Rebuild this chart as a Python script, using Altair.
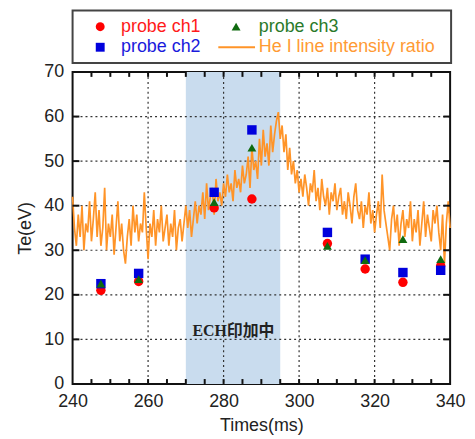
import altair as alt
import pandas as pd

# ---------------- data ----------------
probe_times = [247.5, 257.5, 277.5, 287.5, 307.5, 317.5, 327.5, 337.5]
probe_ch1 = [21.0, 23.0, 39.5, 41.5, 31.5, 25.8, 22.8, 26.5]
probe_ch2 = [22.5, 24.8, 43.0, 57.0, 34.0, 28.0, 25.0, 25.5]
probe_ch3 = [22.5, 23.5, 40.8, 53.0, 31.0, 27.8, 32.5, 28.0]

he_start = 240.0
he_step = 0.5
he_ratio = [
    42, 35, 31, 38, 33, 40, 30, 36, 34, 41, 32, 37, 43, 33, 39, 31, 35, 44, 30, 36, 33,
    38, 29, 35, 41, 32, 36, 30, 27, 33, 37, 31, 40, 34, 38, 32, 36, 34, 43, 35, 28,
    36, 33, 39, 31, 37, 34, 40, 32, 35, 38, 31, 36, 33, 39, 30, 35, 37, 32, 36, 40,
    35, 39, 33, 37, 41, 36, 40, 38, 43, 37, 45, 39, 42, 44, 38, 46, 41, 43, 40, 45,
    42, 47, 43, 45, 41, 48, 44, 46, 43, 49, 45, 47, 51, 44, 53, 48, 50, 46, 55, 49,
    57, 51, 54, 49, 58, 52, 56, 59, 61, 55,
    58, 52, 56, 48, 53, 47, 50, 45, 48, 43,
    46, 42, 47, 44, 40, 45, 43, 48, 41, 44, 39, 46, 42, 40, 44, 38, 43, 41, 45, 39,
    42, 44, 38, 41, 37, 43, 40, 36, 42, 45, 39, 37, 41, 35, 40, 38, 43, 36, 39, 34,
    38, 41, 35, 47, 39, 36, 33, 30, 37, 40, 34, 38, 31, 36, 39, 33, 37, 35, 41, 32,
    37, 34, 39, 31, 36, 41, 33, 38, 35, 32, 39, 36, 40, 34, 30, 38, 27, 36, 41, 35,
]
he_times = [he_start + i * he_step for i in range(len(he_ratio))]

ech_window = [270, 295]
ech_label = "ECH印加中"
ech_label_pos = [282.6, 11.8]

x_domain = [240, 340]
y_domain = [0, 70]
x_grid = [260, 280, 300, 320]
y_grid = [10, 20, 30, 40, 50, 60]
x_minor = [245, 250, 255, 260, 265, 270, 275, 280, 285, 290, 295,
           300, 305, 310, 315, 320, 325, 330, 335]
y_minor = [10, 20, 30, 40, 50, 60]

series_names = ["probe ch1", "probe ch2", "probe ch3", "He I line intensity ratio"]
series_colors = ["#ff0000", "#0000dd", "#0f6a0f", "#ff9428"]
label_colors = ["#ff1a1a", "#1a1adc", "#2a7a2a", "#ff9a33"]
series_shapes = ["circle", "square", "triangle-up", "line"]

FONT = "Liberation Sans"
W, H = 380, 314

# ---------------- main plot ----------------
xs = alt.Scale(domain=x_domain, nice=False, zero=False)
ys = alt.Scale(domain=y_domain, nice=False)

x_axis = alt.Axis(values=[240, 260, 280, 300, 320, 340], grid=False, ticks=False,
                  domain=False, labelFontSize=18, labelFont=FONT, labelColor="#222",
                  labelPadding=9, title="Times(ms)", titleFontSize=18, titleFont=FONT,
                  titleFontWeight="normal", titleColor="#222", titlePadding=6,
                  labelFlush=False)
y_axis = alt.Axis(values=[0, 10, 20, 30, 40, 50, 60, 70], grid=False, ticks=False,
                  domain=False, labelFontSize=18, labelFont=FONT, labelColor="#222",
                  labelPadding=9, title="Te(eV)", titleFontSize=18, titleFont=FONT,
                  titleFontWeight="normal", titleColor="#222", titlePadding=9)

ech_df = pd.DataFrame({"start": [ech_window[0]], "end": [ech_window[1]]})
rect = alt.Chart(ech_df).mark_rect(color="#c9dcee").encode(
    x=alt.X("start:Q", scale=xs, axis=x_axis),
    x2="end:Q",
    y=alt.Y(datum=y_domain[0], scale=ys, axis=y_axis),
    y2=alt.datum(y_domain[1]),
)

gx = alt.Chart(pd.DataFrame({"g": x_grid})).mark_rule(
    color="#333", strokeDash=[2, 3], strokeWidth=1.2).encode(x=alt.X("g:Q", scale=xs))
gy = alt.Chart(pd.DataFrame({"g": y_grid})).mark_rule(
    color="#333", strokeDash=[2, 3], strokeWidth=1.2).encode(y=alt.Y("g:Q", scale=ys))

he_df = pd.DataFrame({"t": he_times, "v": he_ratio})
line = alt.Chart(he_df).mark_line(color=series_colors[3], strokeWidth=1.7).encode(
    x=alt.X("t:Q", scale=xs), y=alt.Y("v:Q", scale=ys))

def pts(vals, i, size):
    df = pd.DataFrame({"t": probe_times, "v": vals})
    return alt.Chart(df).mark_point(filled=True, opacity=1, shape=series_shapes[i],
                                    color=series_colors[i], size=size).encode(
        x=alt.X("t:Q", scale=xs), y=alt.Y("v:Q", scale=ys))

p1 = pts(probe_ch1, 0, 90)
p2 = pts(probe_ch2, 1, 90)
p3 = pts(probe_ch3, 2, 80)

txt_df = pd.DataFrame({"t": [ech_label_pos[0]], "v": [ech_label_pos[1]], "s": [ech_label]})
txt = alt.Chart(txt_df).mark_text(font="'Liberation Serif', 'Noto Sans CJK JP'",
                                  fontWeight="bold", fontSize=16, color="#222").encode(
    x=alt.X("t:Q", scale=xs), y=alt.Y("v:Q", scale=ys), text="s:N")

# inward tick marks
xt_len = 1.1
yt_len = 1.8
xtb = pd.DataFrame({"t": x_minor, "a": [y_domain[0]] * len(x_minor),
                    "b": [y_domain[0] + xt_len] * len(x_minor)})
xtt = pd.DataFrame({"t": x_minor, "a": [y_domain[1]] * len(x_minor),
                    "b": [y_domain[1] - xt_len] * len(x_minor)})
ytl = pd.DataFrame({"v": y_minor, "a": [x_domain[0]] * len(y_minor),
                    "b": [x_domain[0] + yt_len] * len(y_minor)})
ytr = pd.DataFrame({"v": y_minor, "a": [x_domain[1]] * len(y_minor),
                    "b": [x_domain[1] - yt_len] * len(y_minor)})
tick_x = alt.layer(*[
    alt.Chart(d).mark_rule(color="#111", strokeWidth=2).encode(
        x=alt.X("t:Q", scale=xs), y=alt.Y("a:Q", scale=ys), y2="b:Q")
    for d in (xtb, xtt)])
tick_y = alt.layer(*[
    alt.Chart(d).mark_rule(color="#111", strokeWidth=2).encode(
        y=alt.Y("v:Q", scale=ys), x=alt.X("a:Q", scale=xs), x2="b:Q")
    for d in (ytl, ytr)])

main = alt.layer(rect, gx, gy, line, p1, p2, p3, txt, tick_x, tick_y).properties(
    width=W, height=H, view=alt.ViewBackground(stroke="#111", strokeWidth=2))

# ---------------- legend box ----------------
LW, LH = 381, 53
lx = alt.Scale(domain=[0, 1], nice=False)
ly = alt.Scale(domain=[0, 1], nice=False, reverse=True)

leg_sym = pd.DataFrame({
    "x": [0.073, 0.073, 0.432],
    "y": [0.31, 0.70, 0.31],
    "shape": series_shapes[:3],
    "color": series_colors[:3],
})
leg_line = pd.DataFrame({"x": [0.385], "x2": [0.482], "y": [0.70],
                         "color": [series_colors[3]]})
leg_txt = pd.DataFrame({
    "x": [0.128, 0.128, 0.492, 0.492],
    "y": [0.31, 0.70, 0.31, 0.70],
    "label": [series_names[0], series_names[1], series_names[2], series_names[3]],
    "color": [label_colors[0], label_colors[1], label_colors[2], label_colors[3]],
})

ls = alt.Chart(leg_sym).mark_point(filled=True, opacity=1, size=80).encode(
    x=alt.X("x:Q", scale=lx, axis=None), y=alt.Y("y:Q", scale=ly, axis=None),
    shape=alt.Shape("shape:N", scale=None), color=alt.Color("color:N", scale=None))
ll = alt.Chart(leg_line).mark_rule(strokeWidth=2).encode(
    x=alt.X("x:Q", scale=lx, axis=None), x2="x2:Q", y=alt.Y("y:Q", scale=ly, axis=None),
    color=alt.Color("color:N", scale=None))
lt = alt.Chart(leg_txt).mark_text(align="left", baseline="middle", fontSize=18,
                                  font=FONT).encode(
    x=alt.X("x:Q", scale=lx, axis=None), y=alt.Y("y:Q", scale=ly, axis=None),
    text="label:N", color=alt.Color("color:N", scale=None))

legend_box = alt.layer(ls, ll, lt).properties(
    width=LW, height=LH, view=alt.ViewBackground(stroke="#444", strokeWidth=2))

chart = alt.vconcat(legend_box, main, spacing=9, bounds="flush").properties(
    padding={"left": 7, "top": 0, "right": 0, "bottom": 0}
).resolve_scale(x="independent", y="independent", color="independent",
                shape="independent").configure(background="white")

chart.save("out.html", embed_options={"renderer": "svg", "actions": False})
